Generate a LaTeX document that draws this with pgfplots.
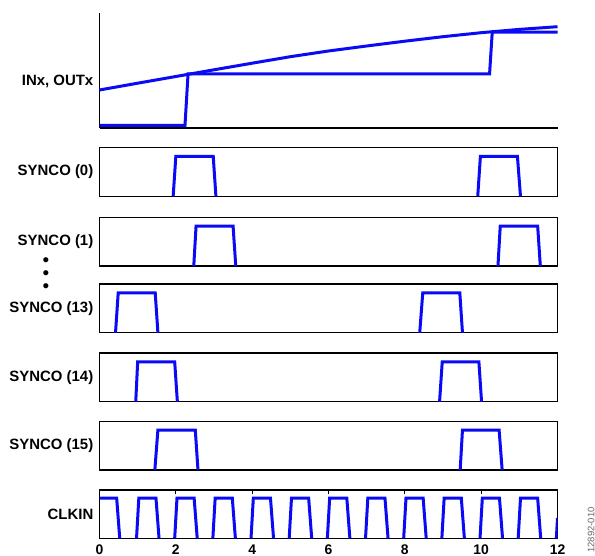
\documentclass[border=0pt]{standalone}
\usepackage{fontspec}
\setmainfont{Liberation Sans}
\usepackage{pgfplots}
\pgfplotsset{compat=1.18}
\definecolor{sigblue}{RGB}{10,10,245}
\pgfplotsset{
  panel/.style={scale only axis, width=458bp, height=48.7bp, anchor=south west,
    xmin=0, xmax=12, ymin=0, ymax=1, xtick=\empty, ytick=\empty,
    axis line style={line width=1.2bp, black}},
  sig/.style={sigblue, line width=3bp, no marks},
}
\begin{document}
\begin{tikzpicture}
\useasboundingbox (0,0) rectangle (595bp,556bp);
% top panel
\begin{axis}[scale only axis, width=458bp, height=114.7bp, anchor=south west, at={(99.5bp,428bp)},
  xmin=0, xmax=12, ymin=0, ymax=114.7, xtick=\empty, ytick=\empty,
  axis x line=bottom, axis y line=left, axis line style={-, line width=1.2bp, black}, clip=false]
\addplot[sig] coordinates {(0,38) (1,44.8) (2,51.5) (3,58.2) (4,64.8) (5,71.3) (6,77) (7,82) (8,86.8) (9,91.3) (10,95.3) (11,98.6) (12,101.3)};
\addplot[sig] coordinates {(0,2.7) (2.24,2.7) (2.32,54) (10.22,54) (10.29,95.8) (12,95.8)};
\end{axis}
% SYNCO (0)
\begin{axis}[panel, at={(99.5bp,359.7bp)}]
\addplot[sig] coordinates {(1.93,0) (2.0,0.82) (2.98,0.82) (3.05,0)};
\addplot[sig] coordinates {(9.91,0) (9.98,0.82) (10.95,0.82) (11.03,0)};
\end{axis}
% SYNCO (1)
\begin{axis}[panel, at={(99.5bp,290bp)}]
\addplot[sig] coordinates {(2.47,0) (2.53,0.82) (3.5,0.82) (3.57,0)};
\addplot[sig] coordinates {(10.44,0) (10.5,0.82) (11.48,0.82) (11.55,0)};
\end{axis}
% SYNCO (13)
\begin{axis}[panel, at={(99.5bp,223.3bp)}]
\addplot[sig] coordinates {(0.42,0) (0.49,0.82) (1.46,0.82) (1.53,0)};
\addplot[sig] coordinates {(8.39,0) (8.47,0.82) (9.44,0.82) (9.51,0)};
\end{axis}
% SYNCO (14)
\begin{axis}[panel, at={(99.5bp,154.3bp)}]
\addplot[sig] coordinates {(0.95,0) (1.0,0.82) (1.97,0.82) (2.04,0)};
\addplot[sig] coordinates {(8.91,0) (8.98,0.82) (9.94,0.82) (10.01,0)};
\end{axis}
% SYNCO (15)
\begin{axis}[panel, at={(99.5bp,86bp)}]
\addplot[sig] coordinates {(1.45,0) (1.53,0.82) (2.51,0.82) (2.58,0)};
\addplot[sig] coordinates {(9.45,0) (9.51,0.82) (10.47,0.82) (10.55,0)};
\end{axis}
% CLKIN
\begin{axis}[panel, at={(99.5bp,17.7bp)}, height=48.3bp,
  xtick={0,2,4,6,8,10,12}, xticklabels={0,2,4,6,8,10,12},
  xtick pos=right, xticklabel pos=left, tick align=inside,
  major tick length=4bp, tick style={line width=1bp, black},
  xticklabel style={font=\fontsize{14}{15}\selectfont\bfseries, anchor=base, inner sep=0pt, yshift=-15.7bp}]
\addplot[sig] coordinates {(0,0.83) (0.45,0.83) (0.53,0)};
\addplot[sig] coordinates {(0.97,0) (1.03,0.83) (1.48,0.83) (1.56,0)};
\addplot[sig] coordinates {(1.97,0) (2.03,0.83) (2.48,0.83) (2.56,0)};
\addplot[sig] coordinates {(2.97,0) (3.03,0.83) (3.48,0.83) (3.56,0)};
\addplot[sig] coordinates {(3.97,0) (4.03,0.83) (4.48,0.83) (4.56,0)};
\addplot[sig] coordinates {(4.97,0) (5.03,0.83) (5.48,0.83) (5.56,0)};
\addplot[sig] coordinates {(5.97,0) (6.03,0.83) (6.48,0.83) (6.56,0)};
\addplot[sig] coordinates {(6.97,0) (7.03,0.83) (7.48,0.83) (7.56,0)};
\addplot[sig] coordinates {(7.97,0) (8.03,0.83) (8.48,0.83) (8.56,0)};
\addplot[sig] coordinates {(8.97,0) (9.03,0.83) (9.48,0.83) (9.56,0)};
\addplot[sig] coordinates {(9.97,0) (10.03,0.83) (10.48,0.83) (10.56,0)};
\addplot[sig] coordinates {(10.97,0) (11.03,0.83) (11.48,0.83) (11.56,0)};
\addplot[sig] coordinates {(11.97,0) (12,0.42)};
\end{axis}
% labels
\tikzset{lab/.style={anchor=east, inner sep=0pt, font=\fontsize{15}{17}\selectfont\bfseries}}
\node[lab] at (93.5bp,474.3bp) {INx, OUTx};
\node[lab] at (93.5bp,384bp) {SYNCO (0)};
\node[lab] at (93.5bp,314.3bp) {SYNCO (1)};
\node[lab] at (93.5bp,247.7bp) {SYNCO (13)};
\node[lab] at (93.5bp,178.5bp) {SYNCO (14)};
\node[lab] at (93.5bp,110.5bp) {SYNCO (15)};
\node[lab] at (93.5bp,42bp) {CLKIN};
\node[inner sep=0pt, align=center, font=\fontsize{19}{13}\selectfont] at (46bp,281bp) {\textbullet\\\textbullet\\\textbullet};
\node[rotate=90, inner sep=0pt, text=black!60, font=\fontsize{9.5}{10}\selectfont] at (591bp,26bp) {12892-010};
\end{tikzpicture}
\end{document}
